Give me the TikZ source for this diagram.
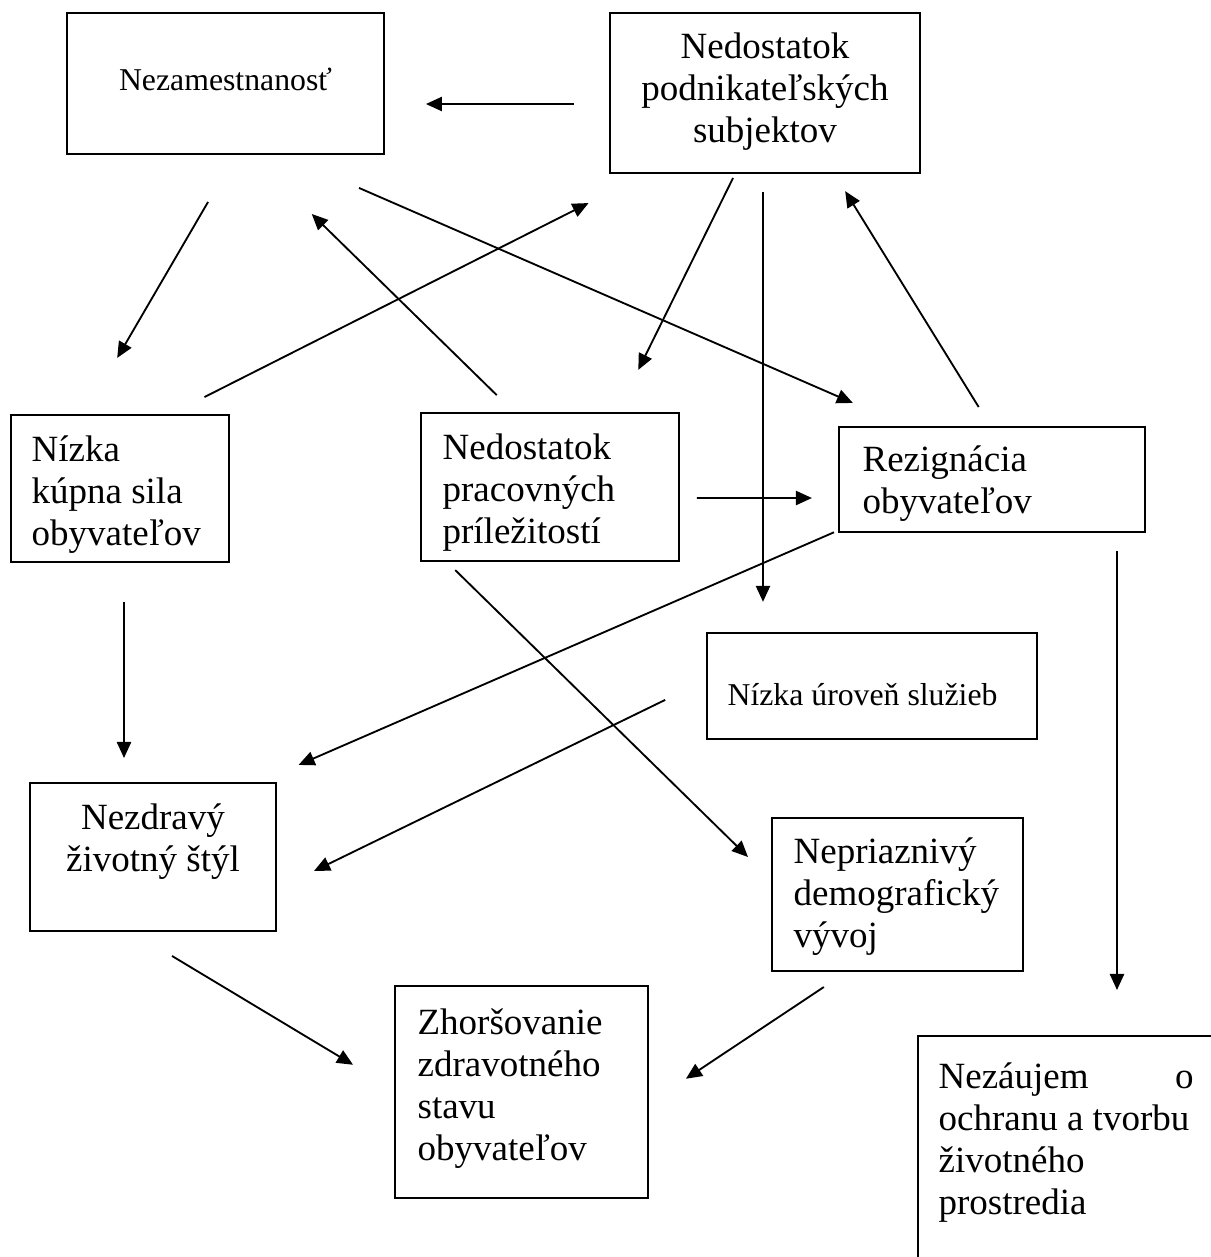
\documentclass[tikz,border=0pt]{standalone}
\usepackage{fontspec}
\setmainfont{Liberation Serif}
\usetikzlibrary{arrows.meta,calc}

\begin{document}
\begin{tikzpicture}[
    x=0.3243pt, y=-0.3243pt,
    % box frame (empty, text goes in its own node)
    box/.style={
        draw=black,
        line width=0.65pt,
        inner sep=0pt,
        outer sep=0pt
    },
    % texts inside the boxes (placed by the baseline of their last line)
    txt/.style={
        inner sep=0pt,
        font=\fontsize{12}{13.6}\selectfont
    },
    smalltxt/.style={
        inner sep=0pt,
        font=\fontsize{10.3}{12}\selectfont
    },
    % connectors
    arrow/.style={
        -{Triangle[length=5.2pt, width=4.6pt]},
        line width=0.6pt
    }
]
    \useasboundingbox (0,0) rectangle (1211,1257);
    \clip (0,0) rectangle (1211,1257);

    % --- 1. top row ---
    \node[box, minimum width=102.8pt, minimum height=45.7pt] (nezam) at (225.5,83.5) {};
    \node[smalltxt, anchor=base, align=center] (nezam-t) at (225.5,90) {Nezamestnanosť};

    \node[box, minimum width=100.5pt, minimum height=51.9pt] (podnik) at (765,93) {};
    \node[txt, anchor=base, align=center] (podnik-t) at (765,142) {Nedostatok\\podnikateľských\\subjektov};

    % --- 2. middle row ---
    \node[box, minimum width=70.7pt, minimum height=47.7pt] (kupna) at (120,488.5) {};
    \node[txt, anchor=base west, align=left] (kupna-t) at (31,545) {Nízka\\kúpna sila\\obyvateľov};

    \node[box, minimum width=83.7pt, minimum height=48pt] (prac) at (550,487) {};
    \node[txt, anchor=base west, align=left] (prac-t) at (442,543) {Nedostatok\\pracovných\\príležitostí};

    \node[box, minimum width=99.2pt, minimum height=34.1pt] (rezig) at (992,479.5) {};
    \node[txt, anchor=base west, align=left] (rezig-t) at (862,513) {Rezignácia\\obyvateľov};

    \node[box, minimum width=107pt, minimum height=34.4pt] (sluzby) at (872,686) {};
    \node[smalltxt, anchor=base west] (sluzby-t) at (727,705) {Nízka úroveň služieb};

    % --- 3. bottom part ---
    \node[box, minimum width=79.8pt, minimum height=48pt] (zivot) at (153,857) {};
    \node[txt, anchor=base, align=center] (zivot-t) at (153,871) {Nezdravý\\životný štýl};

    \node[box, minimum width=81.4pt, minimum height=49.6pt] (demo) at (897.5,894.5) {};
    \node[txt, anchor=base west, align=left] (demo-t) at (793,947) {Nepriaznivý\\demografický\\vývoj};

    \node[box, minimum width=82pt, minimum height=68.8pt] (zhors) at (521.5,1092) {};
    \node[txt, anchor=base west, align=left] (zhors-t) at (417,1160) {Zhoršovanie\\zdravotného\\stavu\\obyvateľov};

    \node[box, minimum width=96pt, minimum height=82.4pt] (prostr) at (1066,1163) {};
    \node[txt, anchor=base west, align=left] (prostr-t) at (938,1214) {\makebox[82.7pt][s]{Nezáujem\hfill o}\\ochranu a tvorbu\\životného\\prostredia};

    % --- 4. connectors (free ends, kept off the frames) ---
    \draw[arrow, shorten <=11.7pt, shorten >=13.6pt] ($(podnik.west)+(0,11)$) -- ($(nezam.east)+(0,20.5)$);
    \draw[arrow, shorten <=18pt, shorten >=21.4pt] ($(nezam.south)+(10.5,0)$) -- ($(kupna.north)+(-36,0)$);
    \draw[arrow, shorten <=27.6pt, shorten >=19.5pt] ($(nezam.south)+(55.5,0)$) -- ($(rezig.north)+(-84,0)$);
    \draw[arrow, shorten <=8.3pt, shorten >=27.8pt] ($(prac.north)+(-35,0)$) -- ($(nezam.south)+(25,0)$);
    \draw[arrow, shorten <=12.9pt, shorten >=21.6pt] ($(kupna.north)+(49,0)$) -- ($(podnik.south)+(-117,0)$);
    \draw[arrow, shorten <=1.8pt, shorten >=15.6pt] ($(podnik.south)+(-29.5,0)$) -- ($(prac.north)+(67,0)$);
    \draw[arrow, shorten <=6.2pt, shorten >=10.1pt] ($(podnik.south)+(-2,0)$) -- ($(sluzby.north)+(-109,0)$);
    \draw[arrow, shorten <=7.6pt, shorten >=6.9pt] ($(rezig.north)+(-1,0)$) -- ($(podnik.south)+(69,0)$);
    \draw[arrow, shorten <=5.8pt, shorten >=8.8pt] ($(prac.east)+(0,11)$) -- ($(rezig.west)+(0,18.5)$);
    \draw[arrow, shorten <=1.8pt, shorten >=14.7pt] ($(rezig.south west)+(0,-2)$) -- ($(zivot.north)+(104,0)$);
    \draw[arrow, shorten <=6.2pt, shorten >=14.9pt] ($(rezig.south)+(125,0)$) -- ($(prostr.north)+(51,0)$);
    \draw[arrow, shorten <=15.1pt, shorten >=13.7pt] ($(sluzby.west)+(0,-6.5)$) -- ($(zivot.east)+(0,32.5)$);
    \draw[arrow, shorten <=4.2pt, shorten >=10.9pt] ($(prac.south)+(-104,0)$) -- ($(demo.west)+(0,-14)$);
    \draw[arrow, shorten <=13pt, shorten >=8.1pt] ($(kupna.south)+(4,0)$) -- ($(zivot.north)+(-29,0)$);
    \draw[arrow, shorten <=9.4pt, shorten >=14.8pt] ($(demo.south)+(-49.5,0)$) -- ($(zhors.east)+(0,12)$);
    \draw[arrow, shorten <=15.7pt, shorten >=15.9pt] ($(zivot.south)+(-22.5,0)$) -- ($(zhors.west)+(0,-2)$);

\end{tikzpicture}
\end{document}
